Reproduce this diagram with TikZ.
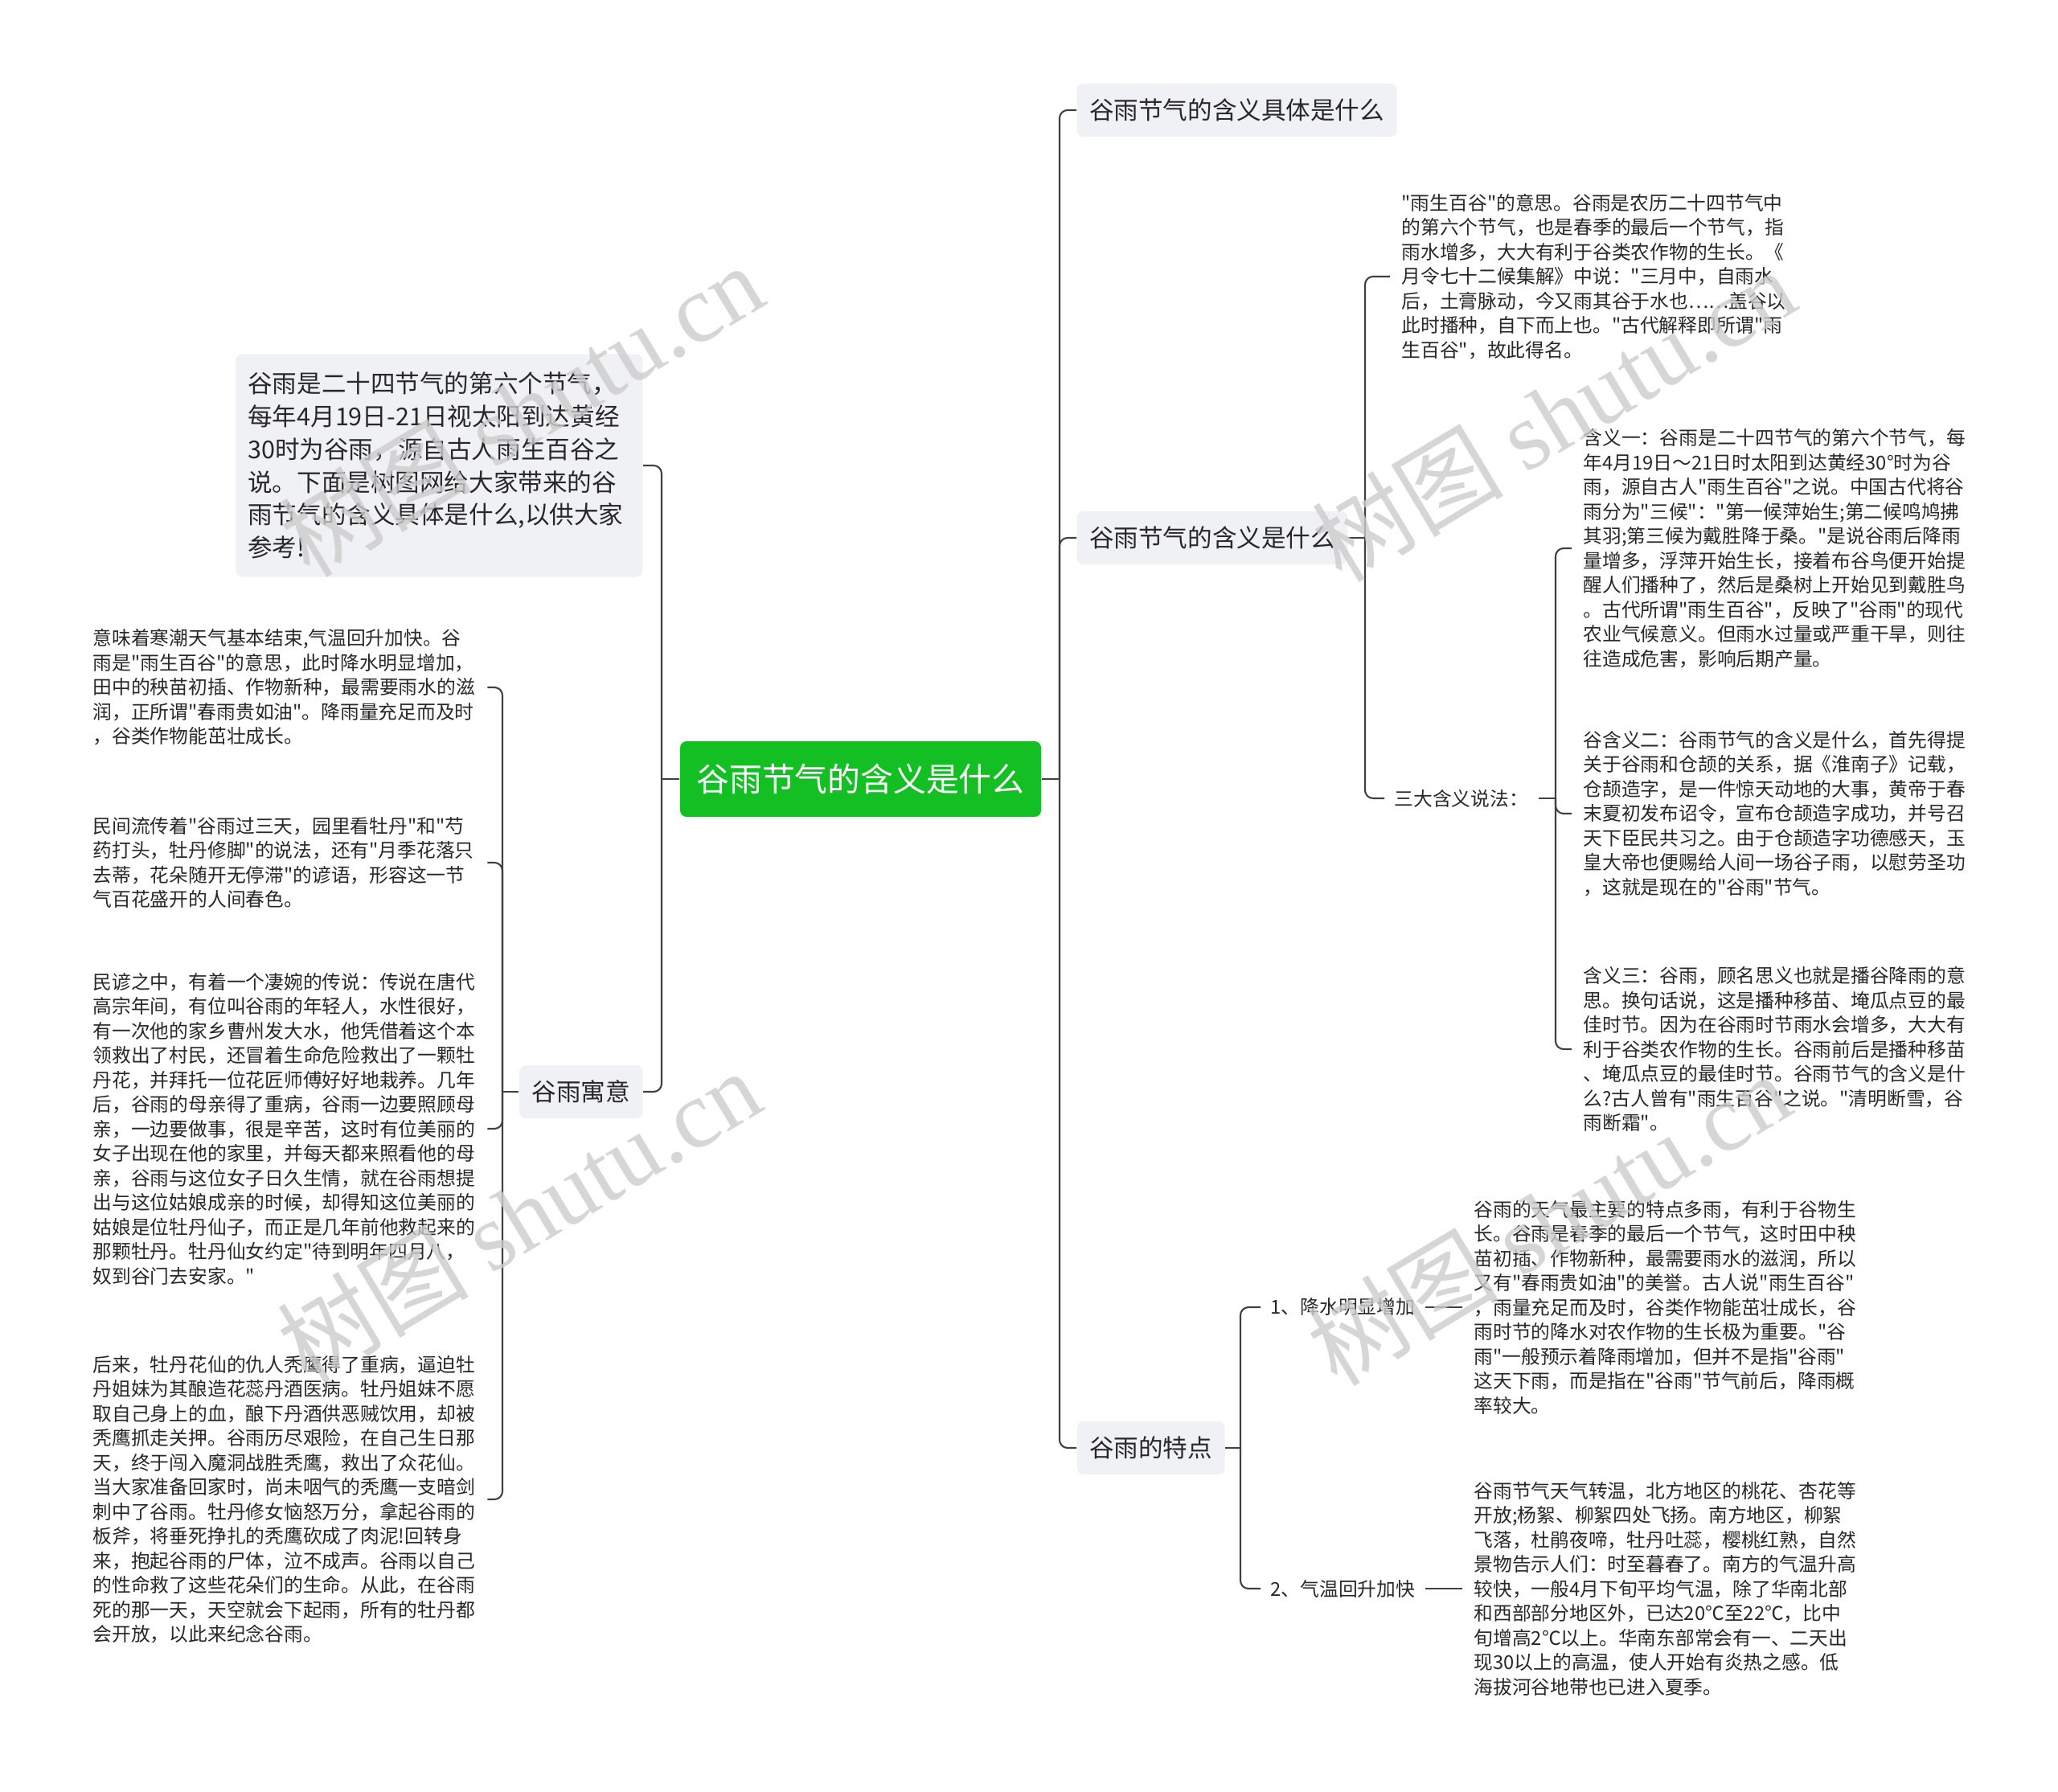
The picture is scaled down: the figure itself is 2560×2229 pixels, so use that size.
\documentclass[tikz,border=0pt]{standalone}
\usepackage{fontspec}
\setmainfont{Noto Sans CJK SC}
\newfontfamily\cjkfont{Noto Sans CJK SC}
\newfontfamily\wmserif{Liberation Serif}
\usetikzlibrary{positioning}
\definecolor{rootgreen}{RGB}{20,191,36}
\definecolor{boxgray}{RGB}{239,241,244}
\definecolor{linegray}{RGB}{64,64,64}
\definecolor{inkgray}{RGB}{40,40,40}
\begin{document}
\begin{tikzpicture}[x=0.1mm,y=-0.1mm,
    rootbox/.style={fill=rootgreen,text=white,rounded corners=0.8mm,inner sep=0pt,
      minimum width=44.9mm,minimum height=9.4mm,font=\cjkfont\fontsize{11.6pt}{14pt}\selectfont},
    topicbox/.style={fill=boxgray,text=inkgray,rounded corners=0.8mm,inner xsep=1.55mm,
      inner ysep=0pt,minimum height=6.6mm,font=\cjkfont\fontsize{8.7pt}{11pt}\selectfont},
    introbox/.style={topicbox,align=left,text width=47.6mm,inner xsep=1.5mm,
      minimum height=27.7mm,font=\cjkfont\fontsize{8.7pt}{11.58pt}\selectfont},
    leaftext/.style={align=left,text=inkgray,text width=47.6mm,inner xsep=1.4mm,inner ysep=0pt,
      font=\cjkfont\fontsize{6.76pt}{8.68pt}\selectfont},
    sublabel/.style={text=inkgray,inner xsep=1.2mm,inner ysep=0pt,
      font=\cjkfont\fontsize{6.76pt}{8.68pt}\selectfont},
    conn/.style={draw=linegray,line width=0.6pt,rounded corners=1mm},
    wmark/.style={text=black!20,opacity=0.8,rotate=31,inner sep=0pt,
      font=\cjkfont\fontsize{34pt}{38pt}\selectfont}
  ]
  \fill[white] (0,0) rectangle (2560,2229);
  \useasboundingbox (0,0) rectangle (2560,2229);
  % centre
  \node[rootbox] (root) at (1070.5,969) {谷雨节气的含义是什么};
  % right topics
  \node[topicbox,anchor=west] (m1) at (1339,137) {谷雨节气的含义具体是什么};
  \node[topicbox,anchor=west] (m2) at (1339,669) {谷雨节气的含义是什么};
  \node[topicbox,anchor=west] (m3) at (1339,1801) {谷雨的特点};
  \coordinate (rj) at (1318,969);
  \draw[conn] (root.east) -- (rj);
  \draw[conn] (rj) |- (m1.west);
  \draw[conn] (rj) |- (m2.west);
  \draw[conn] (rj) |- (m3.west);
  % left topics
  \node[introbox,anchor=east] (intro) at (800,579) {谷雨是二十四节气的第六个节气，\\每年4月19日-21日视太阳到达黄经\\30时为谷雨，源自古人雨生百谷之\\说。下面是树图网给大家带来的谷\\雨节气的含义具体是什么,以供大家\\参考!};
  \node[topicbox,anchor=east] (lmean) at (800,1358) {谷雨寓意};
  \coordinate (lj) at (823,969);
  \draw[conn] (root.west) -- (lj);
  \draw[conn] (lj) |- (intro.east);
  \draw[conn] (lj) |- (lmean.east);
  % 谷雨寓意
  \node[leaftext,anchor=west] (l1) at (101,855) {意味着寒潮天气基本结束,气温回升加快。谷\\雨是"雨生百谷"的意思，此时降水明显增加，\\田中的秧苗初插、作物新种，最需要雨水的滋\\润，正所谓"春雨贵如油"。降雨量充足而及时\\，谷类作物能茁壮成长。};
  \node[leaftext,anchor=west] (l2) at (101,1073) {民间流传着"谷雨过三天，园里看牡丹"和"芍\\药打头，牡丹修脚"的说法，还有"月季花落只\\去蒂，花朵随开无停滞"的谚语，形容这一节\\气百花盛开的人间春色。};
  \node[leaftext,anchor=west] (l3) at (101,1404) {民谚之中，有着一个凄婉的传说：传说在唐代\\高宗年间，有位叫谷雨的年轻人，水性很好，\\有一次他的家乡曹州发大水，他凭借着这个本\\领救出了村民，还冒着生命危险救出了一颗牡\\丹花，并拜托一位花匠师傅好好地栽养。几年\\后，谷雨的母亲得了重病，谷雨一边要照顾母\\亲，一边要做事，很是辛苦，这时有位美丽的\\女子出现在他的家里，并每天都来照看他的母\\亲，谷雨与这位女子日久生情，就在谷雨想提\\出与这位姑娘成亲的时候，却得知这位美丽的\\姑娘是位牡丹仙子，而正是几年前他救起来的\\那颗牡丹。牡丹仙女约定"待到明年四月八，\\奴到谷门去安家。"};
  \node[leaftext,anchor=west] (l4) at (101,1865) {后来，牡丹花仙的仇人秃鹰得了重病，逼迫牡\\丹姐妹为其酿造花蕊丹酒医病。牡丹姐妹不愿\\取自己身上的血，酿下丹酒供恶贼饮用，却被\\秃鹰抓走关押。谷雨历尽艰险，在自己生日那\\天，终于闯入魔洞战胜秃鹰，救出了众花仙。\\当大家准备回家时，尚未咽气的秃鹰一支暗剑\\刺中了谷雨。牡丹修女恼怒万分，拿起谷雨的\\板斧，将垂死挣扎的秃鹰砍成了肉泥!回转身\\来，抱起谷雨的尸体，泣不成声。谷雨以自己\\的性命救了这些花朵们的生命。从此，在谷雨\\死的那一天，天空就会下起雨，所有的牡丹都\\会开放，以此来纪念谷雨。};
  \coordinate (lmj) at (625,1358);
  \draw[conn] (lmean.west) -- (lmj);
  \draw[conn] (lmj) |- (l1.east);
  \draw[conn] (lmj) |- (l2.east);
  \draw[conn] (lmj) |- (l3.east);
  \draw[conn] (lmj) |- (l4.east);
  % 谷雨节气的含义是什么
  \node[leaftext,anchor=west] (r0) at (1729,344) {"雨生百谷"的意思。谷雨是农历二十四节气中\\的第六个节气，也是春季的最后一个节气，指\\雨水增多，大大有利于谷类农作物的生长。《\\月令七十二候集解》中说："三月中，自雨水\\后，土膏脉动，今又雨其谷于水也……盖谷以\\此时播种，自下而上也。"古代解释即所谓"雨\\生百谷"，故此得名。};
  \node[sublabel,anchor=west] (t3) at (1722,993) {三大含义说法：};
  \coordinate (m2j) at (1698,669);
  \draw[conn] (m2.east) -- (m2j);
  \draw[conn] (m2j) |- (r0.west);
  \draw[conn] (m2j) |- (t3.west);
  % 三大含义说法
  \node[leaftext,anchor=west] (k1) at (1955,682) {含义一：谷雨是二十四节气的第六个节气，每\\年4月19日～21日时太阳到达黄经30°时为谷\\雨，源自古人"雨生百谷"之说。中国古代将谷\\雨分为"三候"："第一候萍始生;第二候鸣鸠拂\\其羽;第三候为戴胜降于桑。"是说谷雨后降雨\\量增多，浮萍开始生长，接着布谷鸟便开始提\\醒人们播种了，然后是桑树上开始见到戴胜鸟\\。古代所谓"雨生百谷"，反映了"谷雨"的现代\\农业气候意义。但雨水过量或严重干旱，则往\\往造成危害，影响后期产量。};
  \node[leaftext,anchor=west] (k2) at (1955,1012) {谷含义二：谷雨节气的含义是什么，首先得提\\关于谷雨和仓颉的关系，据《淮南子》记载，\\仓颉造字，是一件惊天动地的大事，黄帝于春\\末夏初发布诏令，宣布仓颉造字成功，并号召\\天下臣民共习之。由于仓颉造字功德感天，玉\\皇大帝也便赐给人间一场谷子雨，以慰劳圣功\\，这就是现在的"谷雨"节气。};
  \node[leaftext,anchor=west] (k3) at (1955,1305) {含义三：谷雨，顾名思义也就是播谷降雨的意\\思。换句话说，这是播种移苗、埯瓜点豆的最\\佳时节。因为在谷雨时节雨水会增多，大大有\\利于谷类农作物的生长。谷雨前后是播种移苗\\、埯瓜点豆的最佳时节。谷雨节气的含义是什\\么?古人曾有"雨生百谷"之说。"清明断雪，谷\\雨断霜"。};
  \coordinate (tj) at (1935,993);
  \draw[conn] (t3.east) -- (tj);
  \draw[conn] (tj) |- (k1.west);
  \draw[conn] (tj) |- (k2.west);
  \draw[conn] (tj) |- (k3.west);
  % 谷雨的特点
  \node[sublabel,anchor=west] (p1) at (1568,1626) {1、降水明显增加};
  \node[sublabel,anchor=west] (p2) at (1568,1976) {2、气温回升加快};
  \node[leaftext,right=4.6mm of p1] (w1) {谷雨的天气最主要的特点多雨，有利于谷物生\\长。谷雨是春季的最后一个节气，这时田中秧\\苗初插、作物新种，最需要雨水的滋润，所以\\又有"春雨贵如油"的美誉。古人说"雨生百谷"\\，雨量充足而及时，谷类作物能茁壮成长，谷\\雨时节的降水对农作物的生长极为重要。"谷\\雨"一般预示着降雨增加，但并不是指"谷雨"\\这天下雨，而是指在"谷雨"节气前后，降雨概\\率较大。};
  \node[leaftext,right=4.6mm of p2] (w2) {谷雨节气天气转温，北方地区的桃花、杏花等\\开放;杨絮、柳絮四处飞扬。南方地区，柳絮\\飞落，杜鹃夜啼，牡丹吐蕊，樱桃红熟，自然\\景物告示人们：时至暮春了。南方的气温升高\\较快，一般4月下旬平均气温，除了华南北部\\和西部部分地区外，已达20℃至22℃，比中\\旬增高2℃以上。华南东部常会有一、二天出\\现30以上的高温，使人开始有炎热之感。低\\海拔河谷地带也已进入夏季。};
  \coordinate (m3j) at (1543,1801);
  \draw[conn] (m3.east) -- (m3j);
  \draw[conn] (m3j) |- (p1.west);
  \draw[conn] (m3j) |- (p2.west);
  \draw[conn] (p1.east) -- (w1.west);
  \draw[conn] (p2.east) -- (w2.west);
  % watermarks
  \node[wmark] (wm1) at (648,510) {树图 {\wmserif shutu.cn}};
  \node[wmark] (wm2) at (1932,516) {树图 {\wmserif shutu.cn}};
  \node[wmark] (wm3) at (645,1512) {树图 {\wmserif shutu.cn}};
  \node[wmark] (wm4) at (1926,1516) {树图 {\wmserif shutu.cn}};
\end{tikzpicture}
\end{document}
